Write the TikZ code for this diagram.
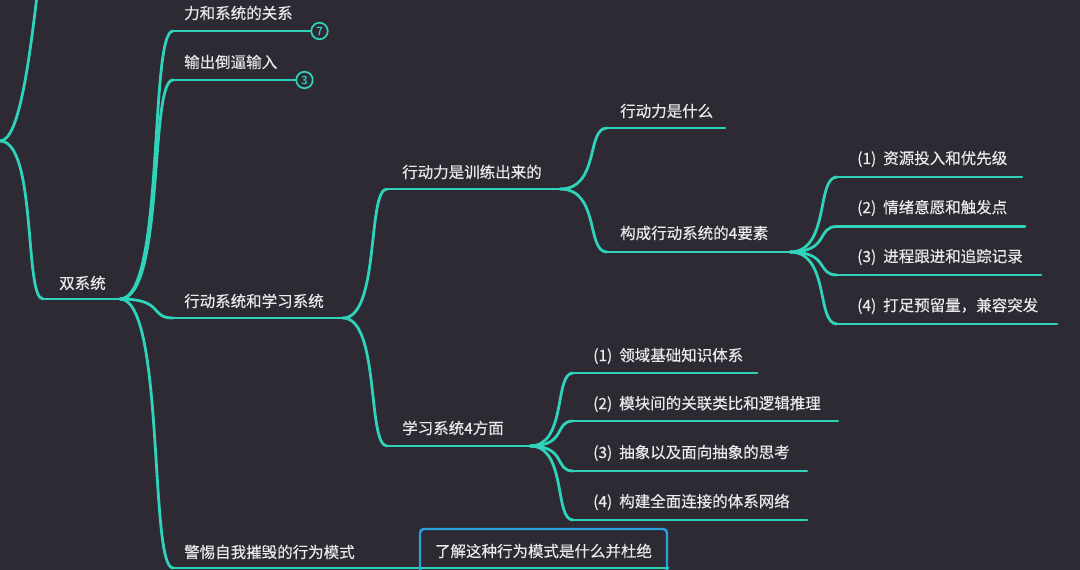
\documentclass[tikz,border=0pt]{standalone}
\usepackage{fontspec}
\setmainfont{Noto Sans CJK SC}[FakeBold=0.35]
\definecolor{bgc}{HTML}{2E2A34}
\definecolor{lnc}{HTML}{2ED3B9}
\definecolor{txc}{HTML}{EAEAEA}
\definecolor{boxc}{HTML}{28A2DE}
\newcommand\brc[4]{\draw[branch] (#1) .. controls +(#3,0) and +(#4,0) .. (#2);}
\tikzset{
  branch/.style={draw=lnc, line width=2.8pt, line cap=round},
  txt/.style={text=txc, inner sep=0pt, anchor=west, font=\fontsize{15.5}{18}\selectfont},
  numc/.style={circle, draw=lnc, line width=1.7pt, fill=bgc, text=lnc, minimum size=16.5pt, inner sep=0pt, font=\fontsize{11.5}{11.5}\selectfont},
  boxed/.style={draw=boxc, line width=2.4pt, rounded corners=4pt, text=txc, minimum width=247pt, minimum height=44pt, inner sep=0pt, font=\fontsize{15.5}{18}\selectfont}
}
\begin{document}
\begin{tikzpicture}[x=1pt,y=-1pt]
\useasboundingbox (0,0) rectangle (1080,570);
\fill[bgc] (0,0) rectangle (1080,570);
\clip (0,0) rectangle (1080,570);

% coordinates
\coordinate (j0) at (0,141);
\coordinate (up) at (80,-200);
\coordinate (s1) at (43,299);  \coordinate (j1) at (120,299);
\coordinate (s2) at (173,31);  \coordinate (e2) at (311,31);
\coordinate (s3) at (173,80);  \coordinate (e3) at (296,80);
\coordinate (s4) at (173,318); \coordinate (j4) at (343,318);
\coordinate (s5) at (173,568); \coordinate (e5) at (667,568);
\coordinate (s7) at (387,189); \coordinate (j7) at (560,189);
\coordinate (s8) at (387,446); \coordinate (j8) at (530,446);
\coordinate (s9) at (607,128); \coordinate (e9) at (725,128);
\coordinate (s10) at (607,252); \coordinate (j10) at (790,252);
\coordinate (sa1) at (837,177); \coordinate (ea1) at (1022,177);
\coordinate (sa2) at (837,226.5); \coordinate (ea2) at (1025,226.5);
\coordinate (sa3) at (837,275); \coordinate (ea3) at (1041,275);
\coordinate (sa4) at (837,324); \coordinate (ea4) at (1057,324);
\coordinate (sb1) at (573,373); \coordinate (eb1) at (757,373);
\coordinate (sb2) at (573,421); \coordinate (eb2) at (838,421);
\coordinate (sb3) at (573,471); \coordinate (eb3) at (807,471);
\coordinate (sb4) at (573,520); \coordinate (eb4) at (807,520);

% connectors
\brc{j0}{up}{40}{-40}
\brc{j0}{s1}{37}{-19}
\brc{j1}{s2}{45}{-24}
\brc{j1}{s3}{45}{-24}
\brc{j1}{s4}{45}{-24}
\brc{j1}{s5}{45}{-24}
\brc{j4}{s7}{37}{-20}
\brc{j4}{s8}{37}{-20}
\brc{j7}{s9}{40}{-21}
\brc{j7}{s10}{40}{-21}
\brc{j10}{sa1}{40}{-21}
\brc{j10}{sa2}{40}{-21}
\brc{j10}{sa3}{40}{-21}
\brc{j10}{sa4}{40}{-21}
\brc{j8}{sb1}{37}{-19}
\brc{j8}{sb2}{37}{-19}
\brc{j8}{sb3}{37}{-19}
\brc{j8}{sb4}{37}{-19}

% underlines
\draw[branch] (s1) -- (j1);
\draw[branch] (s2) -- (e2);
\draw[branch] (s3) -- (e3);
\draw[branch] (s4) -- (j4);
\draw[branch] (s5) -- (e5);
\draw[branch] (s7) -- (j7);
\draw[branch] (s8) -- (j8);
\draw[branch] (s9) -- (e9);
\draw[branch] (s10) -- (j10);
\draw[branch] (sa1) -- (ea1);
\draw[branch] (sa2) -- (ea2);
\draw[branch] (sa3) -- (ea3);
\draw[branch] (sa4) -- (ea4);
\draw[branch] (sb1) -- (eb1);
\draw[branch] (sb2) -- (eb2);
\draw[branch] (sb3) -- (eb3);
\draw[branch] (sb4) -- (eb4);

% count badges
\node[numc] (c7) at (319.5,31) {7};
\node[numc] (c3) at (304.5,80) {3};

% texts
\node[txt] (n1) at (59,283) {双系统};
\node[txt] (n2) at (184,13) {力和系统的关系};
\node[txt] (n3) at (184,62) {输出倒逼输入};
\node[txt] (n4) at (184,301) {行动系统和学习系统};
\node[txt] (n5) at (184,552) {警惕自我摧毁的行为模式};
\node[txt] (n7) at (402,172) {行动力是训练出来的};
\node[txt] (n8) at (402,428) {学习系统4方面};
\node[txt] (n9) at (620,111) {行动力是什么};
\node[txt] (n10) at (620,233) {构成行动系统的4要素};
\node[txt] (a1) at (857,159) {(1)\hspace{0.45em}资源投入和优先级};
\node[txt] (a2) at (857,208) {(2)\hspace{0.45em}情绪意愿和触发点};
\node[txt] (a3) at (857,257) {(3)\hspace{0.45em}进程跟进和追踪记录};
\node[txt] (a4) at (857,306) {(4)\hspace{0.45em}打足预留量，兼容突发};
\node[txt] (b1) at (593,356) {(1)\hspace{0.45em}领域基础知识体系};
\node[txt] (b2) at (593,404) {(2)\hspace{0.45em}模块间的关联类比和逻辑推理};
\node[txt] (b3) at (593,453) {(3)\hspace{0.45em}抽象以及面向抽象的思考};
\node[txt] (b4) at (593,502) {(4)\hspace{0.45em}构建全面连接的体系网络};

% boxed child
\node[boxed] (n6) at (543.5,551) {了解这种行为模式是什么并杜绝};
\draw[branch] (e5) -- (n6.south east |- e5);
\end{tikzpicture}
\end{document}
